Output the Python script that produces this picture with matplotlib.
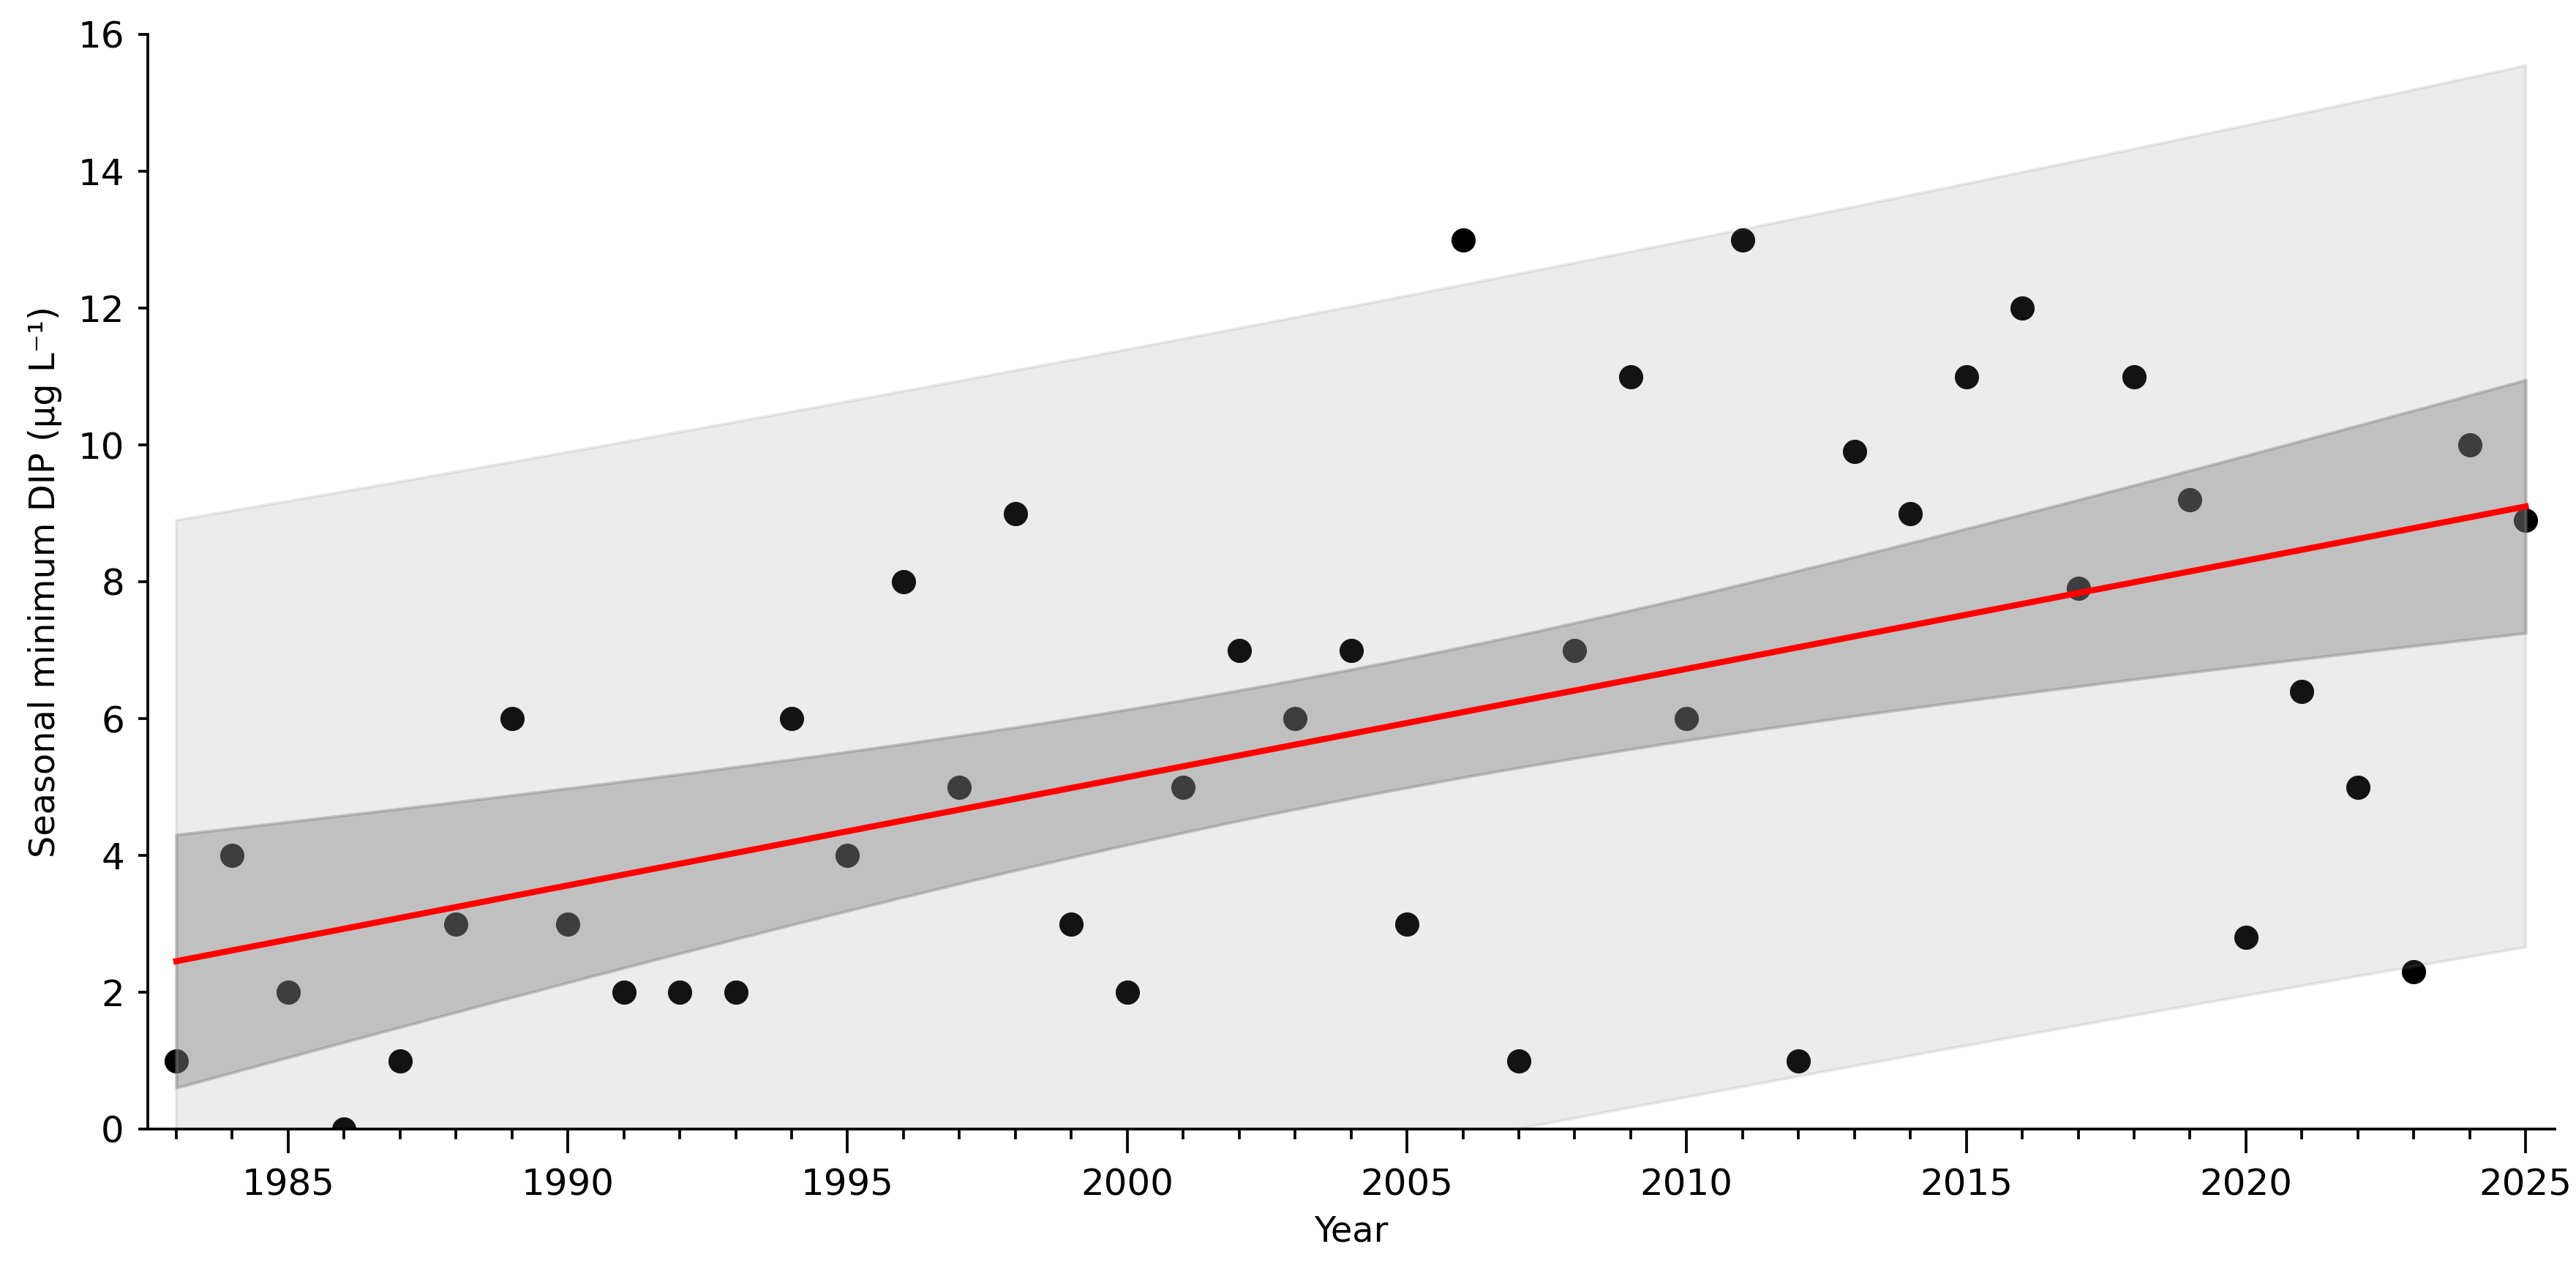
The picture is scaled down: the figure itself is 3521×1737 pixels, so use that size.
import numpy as np
import matplotlib
matplotlib.use("Agg")
import matplotlib.pyplot as plt
from matplotlib.ticker import MultipleLocator

# Data
years = np.arange(1983, 2026)
dip_min = [1, 4, 2, 0, 1, 3, 6, 3, 2, 2,
           2, 6, 4, 8, 5, 9, 3, 2, 5, 7,
           6, 7, 3, 13, 1, 7, 11, 6, 13, 1,
           9.9, 9, 11, 12, 7.9, 11, 9.2, 2.8, 6.4, 5,
           2.3, 10, 8.9]
x_ticks = [1985, 1990, 1995, 2000, 2005, 2010, 2015, 2020, 2025]
y_ticks = [0, 2, 4, 6, 8, 10, 12, 14, 16]

x = years.astype(float)
y = np.array(dip_min, dtype=float)

# OLS fit with 95% confidence and prediction bands
n = len(x)
slope, intercept = np.polyfit(x, y, 1)
resid = y - (slope * x + intercept)
s = np.sqrt(np.sum(resid ** 2) / (n - 2))
z_crit = 1.96
xm = x.mean()
sxx = np.sum((x - xm) ** 2)
xf = np.linspace(x.min(), x.max(), 300)
yf = slope * xf + intercept
se_mean = s * np.sqrt(1.0 / n + (xf - xm) ** 2 / sxx)
se_pred = s * np.sqrt(1.0 + 1.0 / n + (xf - xm) ** 2 / sxx)

fig = plt.figure(figsize=(3521 / 300, 1737 / 300), dpi=300)
ax = fig.add_axes([202 / 3521, 1 - 1543 / 1737, (3492 - 202) / 3521, (1543 - 47) / 1737])

ax.scatter(x, y, s=68, color="black", edgecolors="white", linewidths=0.3, zorder=1)
ax.fill_between(xf, yf - z_crit * se_pred, yf + z_crit * se_pred, color="gray", alpha=0.15, zorder=2)
ax.fill_between(xf, yf - z_crit * se_mean, yf + z_crit * se_mean, color="gray", alpha=0.4, zorder=3)
ax.plot(xf, yf, color="red", lw=2.0, zorder=4)

ax.set_xlim(1982.49, 2025.52)
ax.set_ylim(0, 16)
ax.set_xticks(x_ticks)
ax.set_yticks(y_ticks)
ax.xaxis.set_minor_locator(MultipleLocator(1))
ax.tick_params(axis="x", which="major", length=8, width=0.9, labelsize=12, pad=4.5)
ax.tick_params(axis="x", which="minor", length=3.4, width=0.9)
ax.tick_params(axis="y", which="major", length=3.2, width=0.9, labelsize=12, pad=4.5)
for side in ("top", "right"):
    ax.spines[side].set_visible(False)
for side in ("left", "bottom"):
    ax.spines[side].set_linewidth(0.9)

ax.set_xlabel("Year", fontsize=11.5, labelpad=4)
ax.set_ylabel("Seasonal minimum DIP (μg L⁻¹)", fontsize=11.5, labelpad=5)

fig.savefig("out.png", dpi=300)
